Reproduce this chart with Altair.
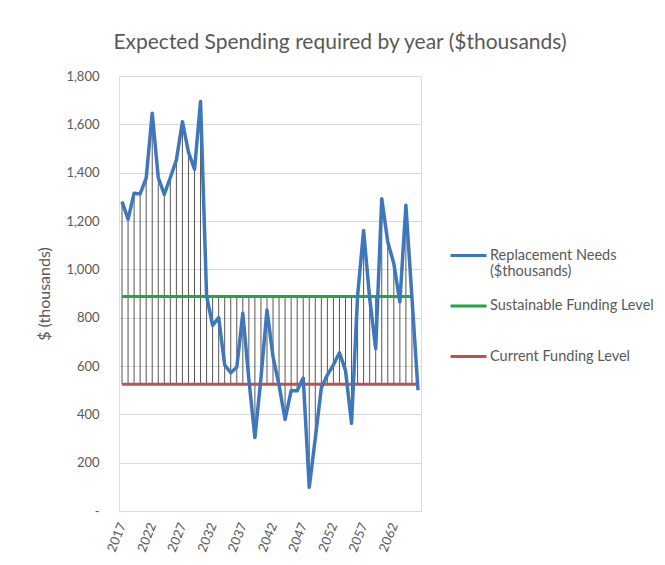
import altair as alt
import pandas as pd

# ---- data ----
years = list(range(2017, 2067))
replacement = [1280, 1207, 1315, 1312, 1377, 1646, 1380, 1310, 1380, 1452,
               1611, 1485, 1414, 1694, 890, 768, 800, 604, 572, 595,
               818, 545, 304, 550, 832, 639, 520, 379, 498, 498,
               550, 98, 301, 510, 563, 605, 655, 582, 363, 890,
               1161, 880, 672, 1292, 1113, 1024, 865, 1265, 883, 500]
sustainable_years = list(range(2017, 2066))
sustainable_level = 888
current_years = list(range(2017, 2067))
current_level = 525

series_names = ["Replacement Needs ($thousands)", "Sustainable Funding Level", "Current Funding Level"]
series_colors = ["#3F77BC", "#1EA843", "#C0504D"]
x_tick_years = list(range(2017, 2063, 5))
y_ticks = list(range(0, 2000, 200))

# ---- tables ----
rep_df = pd.DataFrame({"year": years, "value": replacement, "series": series_names[0]})
lvl_df = pd.concat([
    pd.DataFrame({"year": sustainable_years, "value": sustainable_level, "series": series_names[1]}),
    pd.DataFrame({"year": current_years, "value": current_level, "series": series_names[2]}),
])
all_df = pd.concat([rep_df, lvl_df])
hl_df = all_df.groupby("year")["value"].agg(hi="max", lo="min").reset_index()

FONT = "Lato"
GREY = "#595959"

x_enc = alt.X("year:Q",
              scale=alt.Scale(domain=[2016.5, 2066.5], nice=False, zero=False),
              axis=alt.Axis(values=x_tick_years, format="d", labelAngle=292,
                            labelAlign="right", labelBaseline="middle",
                            domain=True, domainColor="#D9D9D9", domainWidth=1,
                            ticks=False, grid=False, labelPadding=12,
                            labelFont=FONT, labelFontSize=13, labelColor=GREY,
                            title=None))
y_enc = alt.Y("value:Q",
              scale=alt.Scale(domain=[0, 1800], nice=False),
              axis=alt.Axis(values=y_ticks,
                            labelExpr="datum.value == 0 ? '-' : format(datum.value, ',')",
                            domain=False, ticks=False, labelPadding=20,
                            grid=True, gridColor="#D9D9D9", gridWidth=1,
                            labelFont=FONT, labelFontSize=13, labelColor=GREY,
                            title="$ (thousands)", titleFont=FONT, titleFontSize=16,
                            titleFontWeight="normal", titleColor=GREY, titlePadding=13))

label_expr = ("datum.label == 'Replacement Needs ($thousands)' "
              "? ['Replacement Needs', '($thousands)'] : [datum.label, '']")

color_enc = alt.Color("series:N",
                      scale=alt.Scale(domain=series_names, range=series_colors),
                      legend=alt.Legend(title=None, orient="none", legendX=330, legendY=160,
                                        symbolType="stroke", symbolSize=1296,
                                        symbolStrokeWidth=3, padding=0,
                                        labelFont=FONT, labelFontSize=14.5, labelColor=GREY,
                                        labelOffset=2, rowPadding=7.5, labelLimit=300,
                                        labelExpr=label_expr))

rules = alt.Chart(hl_df).mark_rule(color="#3a3a3a", strokeWidth=1, opacity=0.85).encode(
    x=x_enc, y=alt.Y("hi:Q"), y2="lo:Q")

levels = alt.Chart(lvl_df).mark_line(strokeWidth=3).encode(
    x=x_enc, y=y_enc, color=color_enc, detail="series:N")

rep = alt.Chart(rep_df).mark_line(strokeWidth=3.5, strokeJoin="round").encode(
    x=x_enc, y=y_enc, color=color_enc)

chart = alt.layer(rules, levels, rep).properties(
    width=302, height=435,
    autosize=alt.AutoSizeParams(type="none"),
    padding={"left": 111, "top": 68, "right": 236, "bottom": 46},
    title=alt.TitleParams("Expected Spending required by year ($thousands)",
                          font=FONT, fontSize=21, fontWeight="normal", color=GREY,
                          anchor="middle", baseline="alphabetic", offset=0, dx=70),
).configure_view(stroke=None).configure(background="white")

chart.save("out.html", embed_options={"renderer": "svg", "actions": False})
